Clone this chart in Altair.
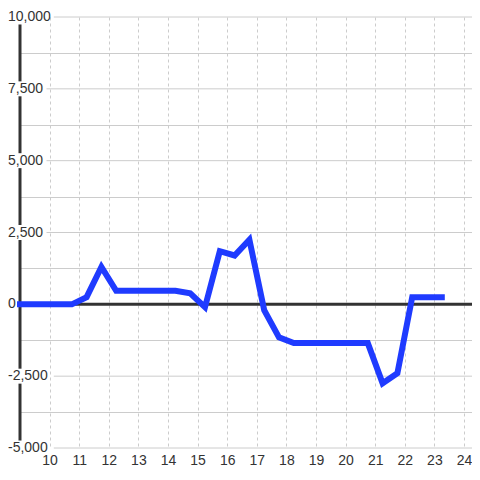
import altair as alt
import pandas as pd

# ---- data ----
hours = [9.0, 9.25, 9.75, 10.25, 10.75, 11.25, 11.75, 12.25, 12.75, 13.25,
         13.75, 14.25, 14.75, 15.25, 15.75, 16.25, 16.75, 17.25, 17.75, 18.25,
         18.75, 19.25, 19.75, 20.25, 20.75, 21.25, 21.75, 22.25, 22.75, 23.25]
values = [0, 0, 0, 0, 0, 250, 1300, 470, 470, 470,
          470, 470, 380, -100, 1850, 1700, 2250, -200, -1150, -1350,
          -1350, -1350, -1350, -1350, -1350, -2750, -2400, 250, 250, 250]

x_ticks = list(range(10, 25))
y_grid = [-5000, -3750, -2500, -1250, 0, 1250, 2500, 3750, 5000, 6250, 7500, 8750, 10000]
y_label_values = [-5000, -2500, 0, 2500, 5000, 7500, 10000]
y_label_texts = ["-5,000", "-2,500", "0", "2,500", "5,000", "7,500", "10,000"]

# ---- layout / style ----
PX_PER_HOUR = 29.6
PLOT_W = 452
PLOT_H = 431
GAP = 260          # half-height of a label's clear zone, in value units
x_domain = [9, 9 + PLOT_W / PX_PER_HOUR]
y_domain = [-5000, 10000]

FONT = "Liberation Sans"
TEXT_COLOR = "#333333"
GRID = "#cccccc"
BG = "#ffffff"

df = pd.DataFrame({"hour": hours, "value": values})
labels_df = pd.DataFrame({"v": y_label_values, "t": y_label_texts})
zero_df = pd.DataFrame({"v": [0]})

# axis line pieces between labels (the line passes under "0", hidden by the series)
stops = sorted(v for v in y_label_values if v != 0)
seg_df = pd.DataFrame({
    "h": [x_domain[0]] * (len(stops) - 1),
    "y1": [a + GAP for a in stops[:-1]],
    "y2": [b - GAP for b in stops[1:]],
})

# gridlines at labelled values start right after the label text
grid_lab_df = labels_df[labels_df["v"] != 0]
y_minor = [v for v in y_grid if v not in y_label_values]

xscale = alt.Scale(domain=x_domain, nice=False, zero=False)
yscale = alt.Scale(domain=y_domain, nice=False, zero=False)

ax_x = alt.Axis(values=x_ticks, grid=True, gridDash=[3, 3], gridColor=GRID,
                gridWidth=1, domain=False, ticks=False, tickSize=0,
                labelPadding=5, labelFontSize=14, labelFont=FONT,
                labelColor=TEXT_COLOR, labelFlush=False, title=None)
ax_y = alt.Axis(values=y_minor, grid=True, gridColor=GRID, gridWidth=1,
                domain=False, ticks=False, tickSize=0, labels=False, title=None)

x0 = x_domain[0]
grid_lab = alt.Chart(grid_lab_df).transform_calculate(
    gx0=f"{x0} + (length(datum.t) * 7.3 - 10) / {PX_PER_HOUR}",
    gx1=f"{x_domain[1]}",
).mark_rule(color=GRID, strokeWidth=1).encode(
    x=alt.X("gx0:Q", scale=xscale, axis=ax_x),
    x2="gx1:Q",
    y=alt.Y("v:Q", scale=yscale, axis=ax_y),
)

zero_rule = alt.Chart(zero_df).mark_rule(color="#333333", strokeWidth=3).encode(
    y=alt.Y("v:Q", scale=yscale, axis=ax_y)
)

axis_rule = alt.Chart(seg_df).mark_rule(color="#333333", strokeWidth=3).encode(
    x=alt.X("h:Q", scale=xscale, axis=ax_x),
    y=alt.Y("y1:Q", scale=yscale, axis=ax_y),
    y2="y2:Q",
)

label_text = alt.Chart(labels_df).mark_text(
    align="left", baseline="middle", font=FONT, fontSize=14, fill=TEXT_COLOR
).encode(
    x=alt.value(-12),
    y=alt.Y("v:Q", scale=yscale, axis=ax_y),
    text="t:N",
)

line = alt.Chart(df).mark_line(
    color="#1f3bff", strokeWidth=6, strokeCap="square", strokeJoin="miter"
).encode(
    x=alt.X("hour:Q", scale=xscale, axis=ax_x),
    y=alt.Y("value:Q", scale=yscale, axis=ax_y),
)

chart = alt.layer(grid_lab, zero_rule, axis_rule, label_text, line).properties(
    width=PLOT_W,
    height=PLOT_H,
    autosize=alt.AutoSizeParams(type="none"),
    padding={"left": 12, "top": 9, "right": 0, "bottom": 18},
    background=BG,
).configure_view(stroke=None)

chart.save("out.html", embed_options={"renderer": "svg", "actions": False})
